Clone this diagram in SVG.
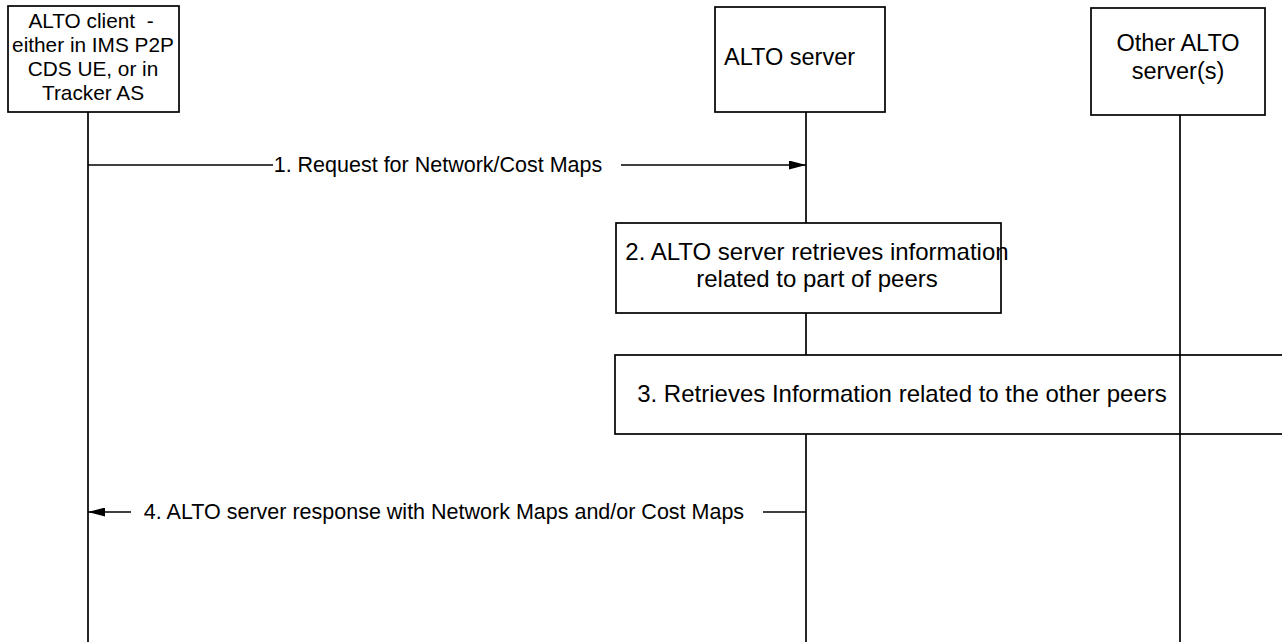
<svg xmlns="http://www.w3.org/2000/svg" width="1282" height="642" viewBox="0 0 1282 642">
<style>
.box{fill:#fff;stroke:#000;stroke-width:1.7}
.ln{stroke:#000;stroke-width:1.7;fill:none}
text{font-family:"Liberation Sans",Arial,sans-serif;fill:#000}
.c{font-size:20.8px;text-anchor:middle}
.s{font-size:23.5px}
.m{font-size:21.5px;text-anchor:middle}
.b{font-size:24px;text-anchor:middle}
</style>
<defs>
<marker id="ah" viewBox="0 0 17 9" refX="17" refY="4.5" markerWidth="17" markerHeight="9" markerUnits="userSpaceOnUse" orient="auto">
<path d="M0,0 L17,4.5 L0,9 Z" fill="#000"/>
</marker>
</defs>
<g id="connectors">
<line class="ln" x1="88" y1="112" x2="88" y2="642"/>
<line class="ln" x1="806" y1="112" x2="806" y2="642"/>
<line class="ln" x1="1180" y1="115" x2="1180" y2="642"/>
<line class="ln" x1="88" y1="165" x2="273" y2="165"/>
<line class="ln" x1="621" y1="165" x2="806" y2="165" marker-end="url(#ah)"/>
<line class="ln" x1="131" y1="512" x2="88" y2="512" marker-end="url(#ah)"/>
<line class="ln" x1="763" y1="512" x2="806" y2="512"/>
</g>
<g id="client">
<rect class="box" x="8" y="6" width="171" height="106"/>
<text class="c" x="91" y="28" xml:space="preserve">ALTO client  -</text>
<text class="c" x="93" y="52">either in IMS P2P</text>
<text class="c" x="93" y="76">CDS UE, or in</text>
<text class="c" x="93" y="100">Tracker AS</text>
</g>
<g id="alto-server">
<rect class="box" x="715" y="7" width="170" height="105"/>
<text class="s" x="724" y="65">ALTO server</text>
</g>
<g id="other-servers">
<rect class="box" x="1091" y="8" width="174" height="107"/>
<text class="s" x="1178" y="51" text-anchor="middle">Other ALTO</text>
<text class="s" x="1178" y="79" text-anchor="middle">server(s)</text>
</g>
<g id="msg1">
<text class="m" x="438" y="172">1. Request for Network/Cost Maps</text>
</g>
<g id="step2">
<rect class="box" x="616" y="223" width="385" height="90"/>
<text class="b" x="817" y="260">2. ALTO server retrieves information</text>
<text class="b" x="817" y="287">related to part of peers</text>
</g>
<g id="step3">
<rect class="box" x="615" y="355" width="700" height="79"/>
<line class="ln" x1="1180" y1="355" x2="1180" y2="434"/>
<text class="b" x="902" y="402">3. Retrieves Information related to the other peers</text>
</g>
<g id="msg4">
<text class="m" x="444" y="519">4. ALTO server response with Network Maps and/or Cost Maps</text>
</g>
</svg>
